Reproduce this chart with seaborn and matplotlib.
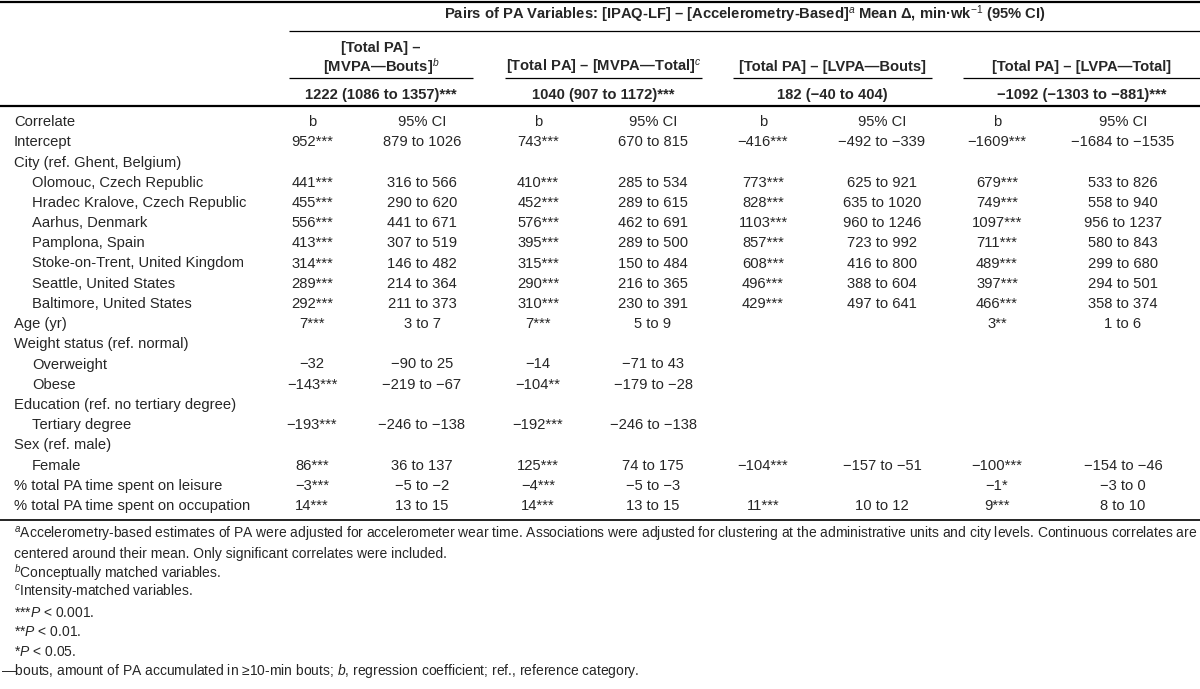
import numpy as np
import pandas as pd
import seaborn as sns
from matplotlib import pyplot as plt

# table content
row_labels = ["Intercept", "City (ref. Ghent, Belgium)", "Olomouc, Czech Republic",
              "Hradec Kralove, Czech Republic", "Aarhus, Denmark", "Pamplona, Spain",
              "Stoke-on-Trent, United Kingdom", "Seattle, United States",
              "Baltimore, United States", "Age (yr)", "Weight status (ref. normal)",
              "Overweight", "Obese", "Education (ref. no tertiary degree)",
              "Tertiary degree", "Sex (ref. male)", "Female",
              "% total PA time spent on leisure", "% total PA time spent on occupation"]
row_indent = [0, 0, 1, 1, 1, 1, 1, 1, 1, 0, 0, 1, 1, 0, 1, 0, 1, 0, 0]

mvpa_bouts_b = ["952***", "", "441***", "455***", "556***", "413***", "314***", "289***",
                "292***", "7***", "", "−32", "−143***", "", "−193***", "", "86***",
                "−3***", "14***"]
mvpa_bouts_ci = ["879 to 1026", "", "316 to 566", "290 to 620", "441 to 671", "307 to 519",
                 "146 to 482", "214 to 364", "211 to 373", "3 to 7", "", "−90 to 25",
                 "−219 to −67", "", "−246 to −138", "", "36 to 137", "−5 to −2", "13 to 15"]
mvpa_total_b = ["743***", "", "410***", "452***", "576***", "395***", "315***", "290***",
                "310***", "7***", "", "−14", "−104**", "", "−192***", "", "125***",
                "−4***", "14***"]
mvpa_total_ci = ["670 to 815", "", "285 to 534", "289 to 615", "462 to 691", "289 to 500",
                 "150 to 484", "216 to 365", "230 to 391", "5 to 9", "", "−71 to 43",
                 "−179 to −28", "", "−246 to −138", "", "74 to 175", "−5 to −3", "13 to 15"]
lvpa_bouts_b = ["−416***", "", "773***", "828***", "1103***", "857***", "608***", "496***",
                "429***", "", "", "", "", "", "", "", "−104***", "", "11***"]
lvpa_bouts_ci = ["−492 to −339", "", "625 to 921", "635 to 1020", "960 to 1246", "723 to 992",
                 "416 to 800", "388 to 604", "497 to 641", "", "", "", "", "", "", "",
                 "−157 to −51", "", "10 to 12"]
lvpa_total_b = ["−1609***", "", "679***", "749***", "1097***", "711***", "489***", "397***",
                "466***", "3**", "", "", "", "", "", "", "−100***", "−1*", "9***"]
lvpa_total_ci = ["−1684 to −1535", "", "533 to 826", "558 to 940", "956 to 1237", "580 to 843",
                 "299 to 680", "294 to 501", "358 to 374", "1 to 6", "", "", "", "", "", "",
                 "−154 to −46", "−3 to 0", "8 to 10"]

pair_titles = ["[MVPA—Bouts]$^{b}$", "[Total PA] – [MVPA—Total]$^{c}$",
               "[Total PA] – [LVPA—Bouts]", "[Total PA] – [LVPA—Total]"]
pair_means = ["1222 (1086 to 1357)***", "1040 (907 to 1172)***",
              "182 (−40 to 404)", "−1092 (−1303 to −881)***"]
header = ("Pairs of PA Variables: [IPAQ-LF] – [Accelerometry-Based]$^{a}$ "
          "Mean Δ, min·wk$^{-1}$ (95% CI)")

footnotes = [
    "$^{a}$Accelerometry-based estimates of PA were adjusted for accelerometer wear time. "
    "Associations were adjusted for clustering at the administrative units and city levels. "
    "Continuous correlates are",
    "centered around their mean. Only significant correlates were included.",
    "$^{b}$Conceptually matched variables.",
    "$^{c}$Intensity-matched variables.",
    "***$P$ < 0.001.",
    "**$P$ < 0.01.",
    "*$P$ < 0.05.",
    "—bouts, amount of PA accumulated in ≥10-min bouts; $b$, regression coefficient; "
    "ref., reference category.",
]

df = pd.DataFrame({
    "label": row_labels, "indent": row_indent,
    "b1": mvpa_bouts_b, "ci1": mvpa_bouts_ci,
    "b2": mvpa_total_b, "ci2": mvpa_total_ci,
    "b3": lvpa_bouts_b, "ci3": lvpa_bouts_ci,
    "b4": lvpa_total_b, "ci4": lvpa_total_ci,
})

sns.set_theme(style="white")
plt.rcParams['font.family'] = ['Liberation Sans', 'DejaVu Sans']
plt.rcParams['mathtext.fontset'] = 'custom'
plt.rcParams['mathtext.rm'] = 'Liberation Sans'
plt.rcParams['mathtext.it'] = 'Liberation Sans:italic'
plt.rcParams['mathtext.bf'] = 'Liberation Sans:bold'

fs = 10.6
fs_note = 10.0
base = 5.3  # centre line -> baseline offset (px)
fig = plt.figure(figsize=(12, 6.89), dpi=100)
ax = fig.add_axes([0, 0, 1, 1])
ax.set_xlim(0, 1200)
ax.set_ylim(689, 0)
ax.axis("off")


def put(x, y, s, ha="center", **kw):
    ax.text(x, y + base, s, ha=ha, va="baseline", **kw)


# layout (pixels)
col_x = [312, 422, 538, 653, 763, 882, 997, 1123]
group_span = [(289, 473), (505, 702), (733, 932), (963, 1200)]
row_y0, row_step = 141, 20.2
foot_y0, foot_step = 533, 19.6

# rules
ax.hlines(1.5, 0, 1200, color="black", lw=1.6)
ax.hlines(31, 289, 1200, color="black", lw=0.9)
for x0, x1 in group_span:
    ax.hlines(78, x0, x1, color="black", lw=0.9)
ax.hlines(106, 0, 1200, color="black", lw=1.6)
ax.hlines(520, 0, 1200, color="black", lw=1.2)

# header block
put((289 + 1200) / 2, 14, header, fontsize=fs, fontweight="bold")
put(np.mean(group_span[0]), 47, "[Total PA] –", fontsize=fs, fontweight="bold")
for (x0, x1), title, mean in zip(group_span, pair_titles, pair_means):
    xc = (x0 + x1) / 2
    put(xc, 66, title, fontsize=fs, fontweight="bold")
    put(xc, 94, mean, fontsize=fs, fontweight="bold")

# column headings
put(14, 121, "Correlate", ha="left", fontsize=fs)
for i, x in enumerate(col_x):
    put(x, 121, "b" if i % 2 == 0 else "95% CI", fontsize=fs)

# body
cols = ["b1", "ci1", "b2", "ci2", "b3", "ci3", "b4", "ci4"]
for i, row in df.iterrows():
    y = row_y0 + i * row_step
    put(14 + 18 * row["indent"], y, row["label"], ha="left", fontsize=fs)
    for x, c in zip(col_x, cols):
        if row[c]:
            put(x, y, row[c], fontsize=fs)

# footnotes
for j, note in enumerate(footnotes):
    xs = 1 if note.startswith("—") else 14
    put(xs, foot_y0 + j * foot_step, note, ha="left", fontsize=fs_note)

fig.savefig("out.png", dpi=100, facecolor="white")
